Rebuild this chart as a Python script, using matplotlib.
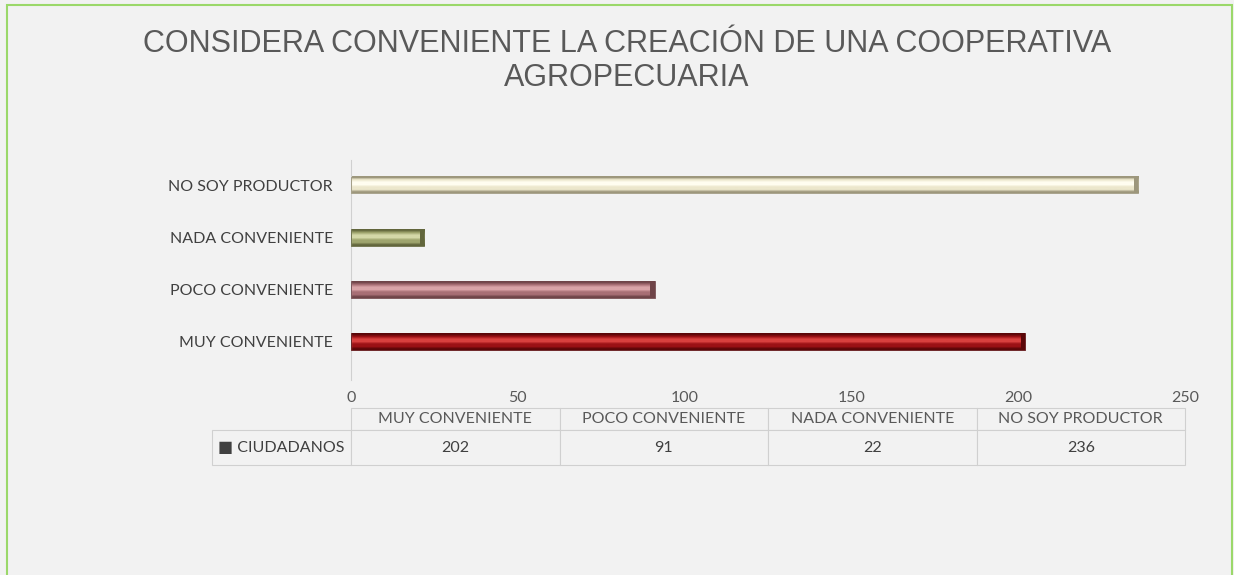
import numpy as np
import matplotlib.pyplot as plt
from matplotlib.patches import Rectangle
from matplotlib.colors import to_rgb

# datos
categorias = ['MUY CONVENIENTE', 'POCO CONVENIENTE', 'NADA CONVENIENTE', 'NO SOY PRODUCTOR']
ciudadanos = [202, 91, 22, 236]
serie = 'CIUDADANOS'
ticks_x = [0, 50, 100, 150, 200, 250]

# colores (claro, base, oscuro) para el efecto biselado
colores = [
    ('#d8403e', '#9b1115', '#5a0608'),
    ('#d9a3a7', '#a86f75', '#6f4448'),
    ('#d4d8a8', '#9fa56e', '#62663c'),
    ('#fffdf0', '#ece7cc', '#9d977c'),
]

fondo = '#f2f2f2'
plt.rcParams['font.family'] = ['Lato', 'DejaVu Sans']

fig = plt.figure(figsize=(12.34, 5.75), dpi=100)
fig.patch.set_facecolor(fondo)
fig.patches.append(Rectangle((7/1234, -0.1), 1225/1234, 1.1 - 5/575, transform=fig.transFigure,
                             fill=False, edgecolor='#9bd86a', linewidth=1.5))

ax = fig.add_axes([351/1234, 1 - 380/575, 834/1234, 220/575])
ax.set_facecolor(fondo)

y = np.arange(len(categorias))
alto = 0.32
barras = ax.barh(y, ciudadanos, height=alto, color='none', edgecolor='none')
for b, (cl, cb, co) in zip(barras, colores):
    x0, y0, w, h = b.get_x(), b.get_y(), b.get_width(), b.get_height()
    grad = [co, cb, cb, cl, cl, cb, co]
    img = np.array([to_rgb(c) for c in grad]).reshape(-1, 1, 3)
    ax.imshow(img, extent=(x0, x0 + w, y0, y0 + h), aspect='auto', interpolation='bilinear',
              origin='lower', zorder=2)
    # extremo oscuro biselado
    ax.add_patch(Rectangle((x0 + w - 1.3, y0), 1.3, h, color=co, zorder=3, linewidth=0))
    ax.add_patch(Rectangle((x0, y0), w, h, fill=False, edgecolor=co, linewidth=0.6, zorder=4))

ax.set_xlim(0, 250)
ax.set_ylim(-0.73, 3.48)
ax.set_xticks(ticks_x)
ax.set_yticks(y)
ax.set_yticklabels(categorias)
ax.tick_params(axis='x', length=0, pad=8, labelsize=11.5, colors='#595959')
ax.tick_params(axis='y', length=0, pad=13, labelsize=11.5, colors='#404040')
for s in ['top', 'right', 'bottom']:
    ax.spines[s].set_visible(False)
ax.spines['left'].set_color('#d0d0d0')

fig.text(0.508, 1 - 61/575, 'CONSIDERA CONVENIENTE LA CREACIÓN DE UNA COOPERATIVA\nAGROPECUARIA',
         ha='center', va='center', fontsize=22, color='#595959', family='Liberation Sans',
         linespacing=1.15)

# tabla de datos
celdas = [[''] + categorias, ['\u25A0 ' + serie] + [str(v) for v in ciudadanos]]
anchos = [139/973] + [208.5/973] * 4
tabla = ax.table(cellText=celdas, colWidths=anchos, cellLoc='center',
                 bbox=[-139/834, -(465 - 380)/220, 973/834, 57/220])
tabla.auto_set_font_size(False)
for (r, c), celda in tabla.get_celld().items():
    celda.set_facecolor(fondo)
    celda.set_edgecolor('#d0d0d0')
    celda.set_linewidth(0.8)
    celda.get_text().set_fontsize(11.5)
    celda.get_text().set_color('#404040')
    if r == 0:
        celda.set_height(22/57 * celda.get_height() * 2)
    else:
        celda.set_height(35/57 * celda.get_height() * 2)
    if r == 0 and c == 0:
        celda.set_edgecolor(fondo)
        celda.visible_edges = ''
    if r == 0 and c > 0:
        celda.get_text().set_color('#595959')

plt.savefig('out.png', dpi=100, facecolor=fondo)
